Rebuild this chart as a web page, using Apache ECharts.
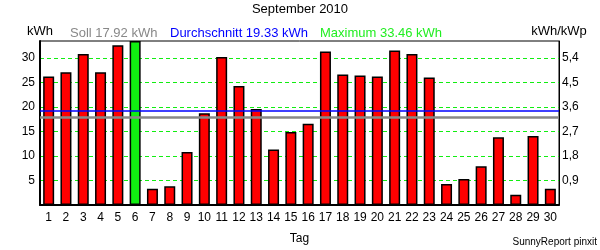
<!DOCTYPE html>
<html><head><meta charset="utf-8">
<script src="https://cdn.jsdelivr.net/npm/echarts@6/dist/echarts.min.js"></script>
<style>html,body{margin:0;padding:0;background:#fff}#c{width:600px;height:250px}</style>
</head><body><div id="c"></div>
<script>
const days = ['1','2','3','4','5','6','7','8','9','10','11','12','13','14','15','16','17','18','19','20','21','22','23','24','25','26','27','28','29','30'];
const energy = [26.2, 27.1, 30.8, 27.1, 32.6, 33.46, 3.3, 3.8, 10.8, 18.7, 30.2, 24.3, 19.6, 11.3, 14.9, 16.6, 31.3, 26.6, 26.4, 26.2, 31.5, 30.8, 26.0, 4.3, 5.3, 7.9, 13.8, 2.1, 14.1, 3.3];
const sollValue = 17.92;
const avgValue = 19.33;
const maxValue = 33.46;
const kwhPerKwp = 0.18;
const titleText = 'September 2010';
const sollText = 'Soll 17.92 kWh';
const avgText = 'Durchschnitt 19.33 kWh';
const maxText = 'Maximum 33.46 kWh';

const FONT = 'Liberation Sans, Arial, sans-serif';
const barData = energy.map(v => v === maxValue
  ? { value: v, itemStyle: { color: '#11ee11' } }
  : v);

const chart = echarts.init(document.getElementById('c'), null, { renderer: 'canvas' });
chart.setOption({
  animation: false,
  backgroundColor: '#fff',
  textStyle: { fontFamily: FONT },
  title: [
    { text: titleText, left: 'center', top: 3, padding: 0, textStyle: { fontSize: 13, fontWeight: 'normal', color: '#000', fontFamily: FONT } },
    { text: sollText, left: 70, top: 27, padding: 0, textStyle: { fontSize: 13, fontWeight: 'normal', color: '#888888', fontFamily: FONT } },
    { text: avgText, left: 170, top: 27, padding: 0, textStyle: { fontSize: 13, fontWeight: 'normal', color: '#0000ff', fontFamily: FONT } },
    { text: maxText, left: 320, top: 27, padding: 0, textStyle: { fontSize: 13, fontWeight: 'normal', color: '#22ee22', fontFamily: FONT } },
    { text: 'SunnyReport pinxit', right: 3, top: 237, padding: 0, textStyle: { fontSize: 10, fontWeight: 'normal', color: '#000', fontFamily: FONT } }
  ],
  grid: { left: 40, right: 41, top: 41, bottom: 40, show: true, borderColor: '#000', borderWidth: 1, backgroundColor: 'transparent' },
  xAxis: {
    type: 'category',
    data: days,
    name: 'Tag',
    nameLocation: 'middle',
    nameGap: 28,
    nameTextStyle: { fontSize: 12, color: '#000', fontFamily: FONT },
    axisLine: { show: true, lineStyle: { color: '#000', width: 2 } },
    axisTick: { show: false },
    axisLabel: { fontSize: 12, color: '#000', margin: 7, interval: 0, fontFamily: FONT },
    splitLine: { show: false }
  },
  yAxis: [
    {
      type: 'value',
      min: 0,
      max: maxValue,
      interval: 5,
      name: 'kWh',
      nameLocation: 'end',
      nameGap: 3,
      nameTextStyle: { fontSize: 13, color: '#000', fontFamily: FONT },
      axisLine: { show: true, lineStyle: { color: '#000', width: 2 } },
      axisTick: { show: false },
      axisLabel: {
        fontSize: 12, color: '#000', margin: 5, fontFamily: FONT,
        showMaxLabel: false,
        formatter: v => (v > 0 && Math.abs(v % 5) < 1e-6) ? String(v) : ''
      },
      splitLine: { show: true, showMinLine: false, showMaxLine: false, lineStyle: { color: '#11ee11', type: [4, 3], width: 1 } }
    },
    {
      type: 'value',
      position: 'right',
      min: 0,
      max: maxValue * kwhPerKwp,
      interval: 5 * kwhPerKwp,
      name: 'kWh/kWp',
      nameLocation: 'end',
      nameGap: 3,
      nameTextStyle: { fontSize: 13, color: '#000', fontFamily: FONT },
      axisLine: { show: true, lineStyle: { color: '#000', width: 1 } },
      axisTick: { show: false },
      axisLabel: {
        fontSize: 12, color: '#000', margin: 3, fontFamily: FONT,
        showMaxLabel: false,
        formatter: v => {
          const k = v / (5 * kwhPerKwp);
          return (v > 0 && Math.abs(k - Math.round(k)) < 1e-6) ? v.toFixed(1).replace('.', ',') : '';
        }
      },
      splitLine: { show: false }
    }
  ],
  series: [{
    type: 'bar',
    data: barData,
    barWidth: 11,
    itemStyle: { color: '#ff0000', borderColor: '#000', borderWidth: 1.5 },
    markLine: {
      silent: true,
      symbol: ['none', 'none'],
      label: { show: false },
      data: [
        { yAxis: sollValue, lineStyle: { color: '#888888', width: 2.5, type: 'solid' } },
        { yAxis: avgValue, lineStyle: { color: '#0000ff', width: 1.5, type: 'solid' } }
      ]
    }
  }]
});
</script>
</body></html>
